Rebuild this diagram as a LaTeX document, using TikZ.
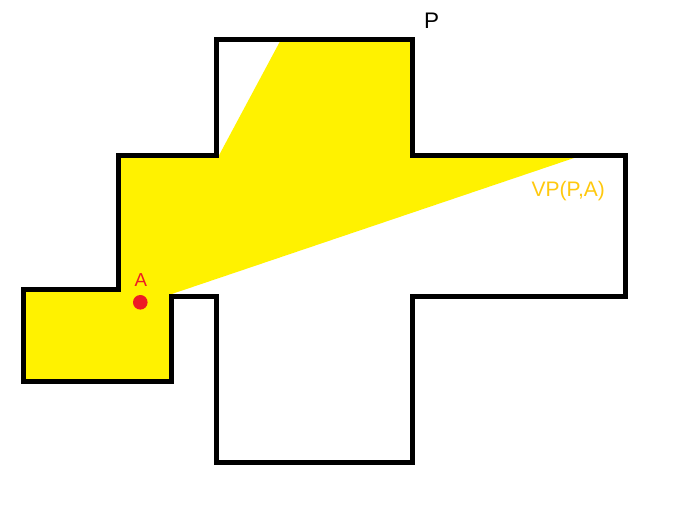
\documentclass[tikz,border=0pt]{standalone}
\usepackage{fontspec}
\setmainfont{Liberation Sans}
\definecolor{pyellow}{RGB}{255,242,0}
\definecolor{pred}{RGB}{237,28,36}
\definecolor{pgold}{RGB}{255,201,14}
\begin{document}
\begin{tikzpicture}[x=1pt,y=-1pt,
  outline/.style={draw=black,line width=5pt,line join=miter},
  vis/.style={fill=pyellow,draw=none},
  lbl/.style={inner sep=0pt,anchor=base west}]
\useasboundingbox (0,0) rectangle (678,524);
\fill[white] (0,0) rectangle (678,524);
% visibility polygon
\path[vis] (23.5,289.5) -- (118.5,289.5) -- (118.5,155.3) -- (219,155.3) -- (281,39.5)
  -- (412.5,39.5) -- (412.5,155.3) -- (582,155.3) -- (171.8,294) -- (171.8,381.5)
  -- (23.5,381.5) -- cycle;
% polygon P
\draw[outline] (216.5,39.5) -- (412.5,39.5) -- (412.5,155.3) -- (625,155.3) -- (625,296.5)
  -- (412.5,296.5) -- (412.5,462) -- (216.5,462) -- (216.5,296.5) -- (171.8,296.5)
  -- (171.8,381.5) -- (23.5,381.5) -- (23.5,289.5) -- (118.5,289.5) -- (118.5,155.3)
  -- (216.5,155.3) -- cycle;
% labels
\node[lbl,font=\fontsize{22.5}{22.5}\selectfont] (P) at (424,29) {P};
\node[lbl,font=\fontsize{21}{21}\selectfont,text=pgold] (VP) at (531.5,196.7) {VP(P,A)};
\node[inner sep=0pt,anchor=base,font=\fontsize{18.7}{18.7}\selectfont,text=pred] (Alab) at (140.8,286.7) {A};
\node[circle,fill=pred,minimum size=14.6pt,inner sep=0pt] (A) at (140.3,302.3) {};
\end{tikzpicture}
\end{document}
